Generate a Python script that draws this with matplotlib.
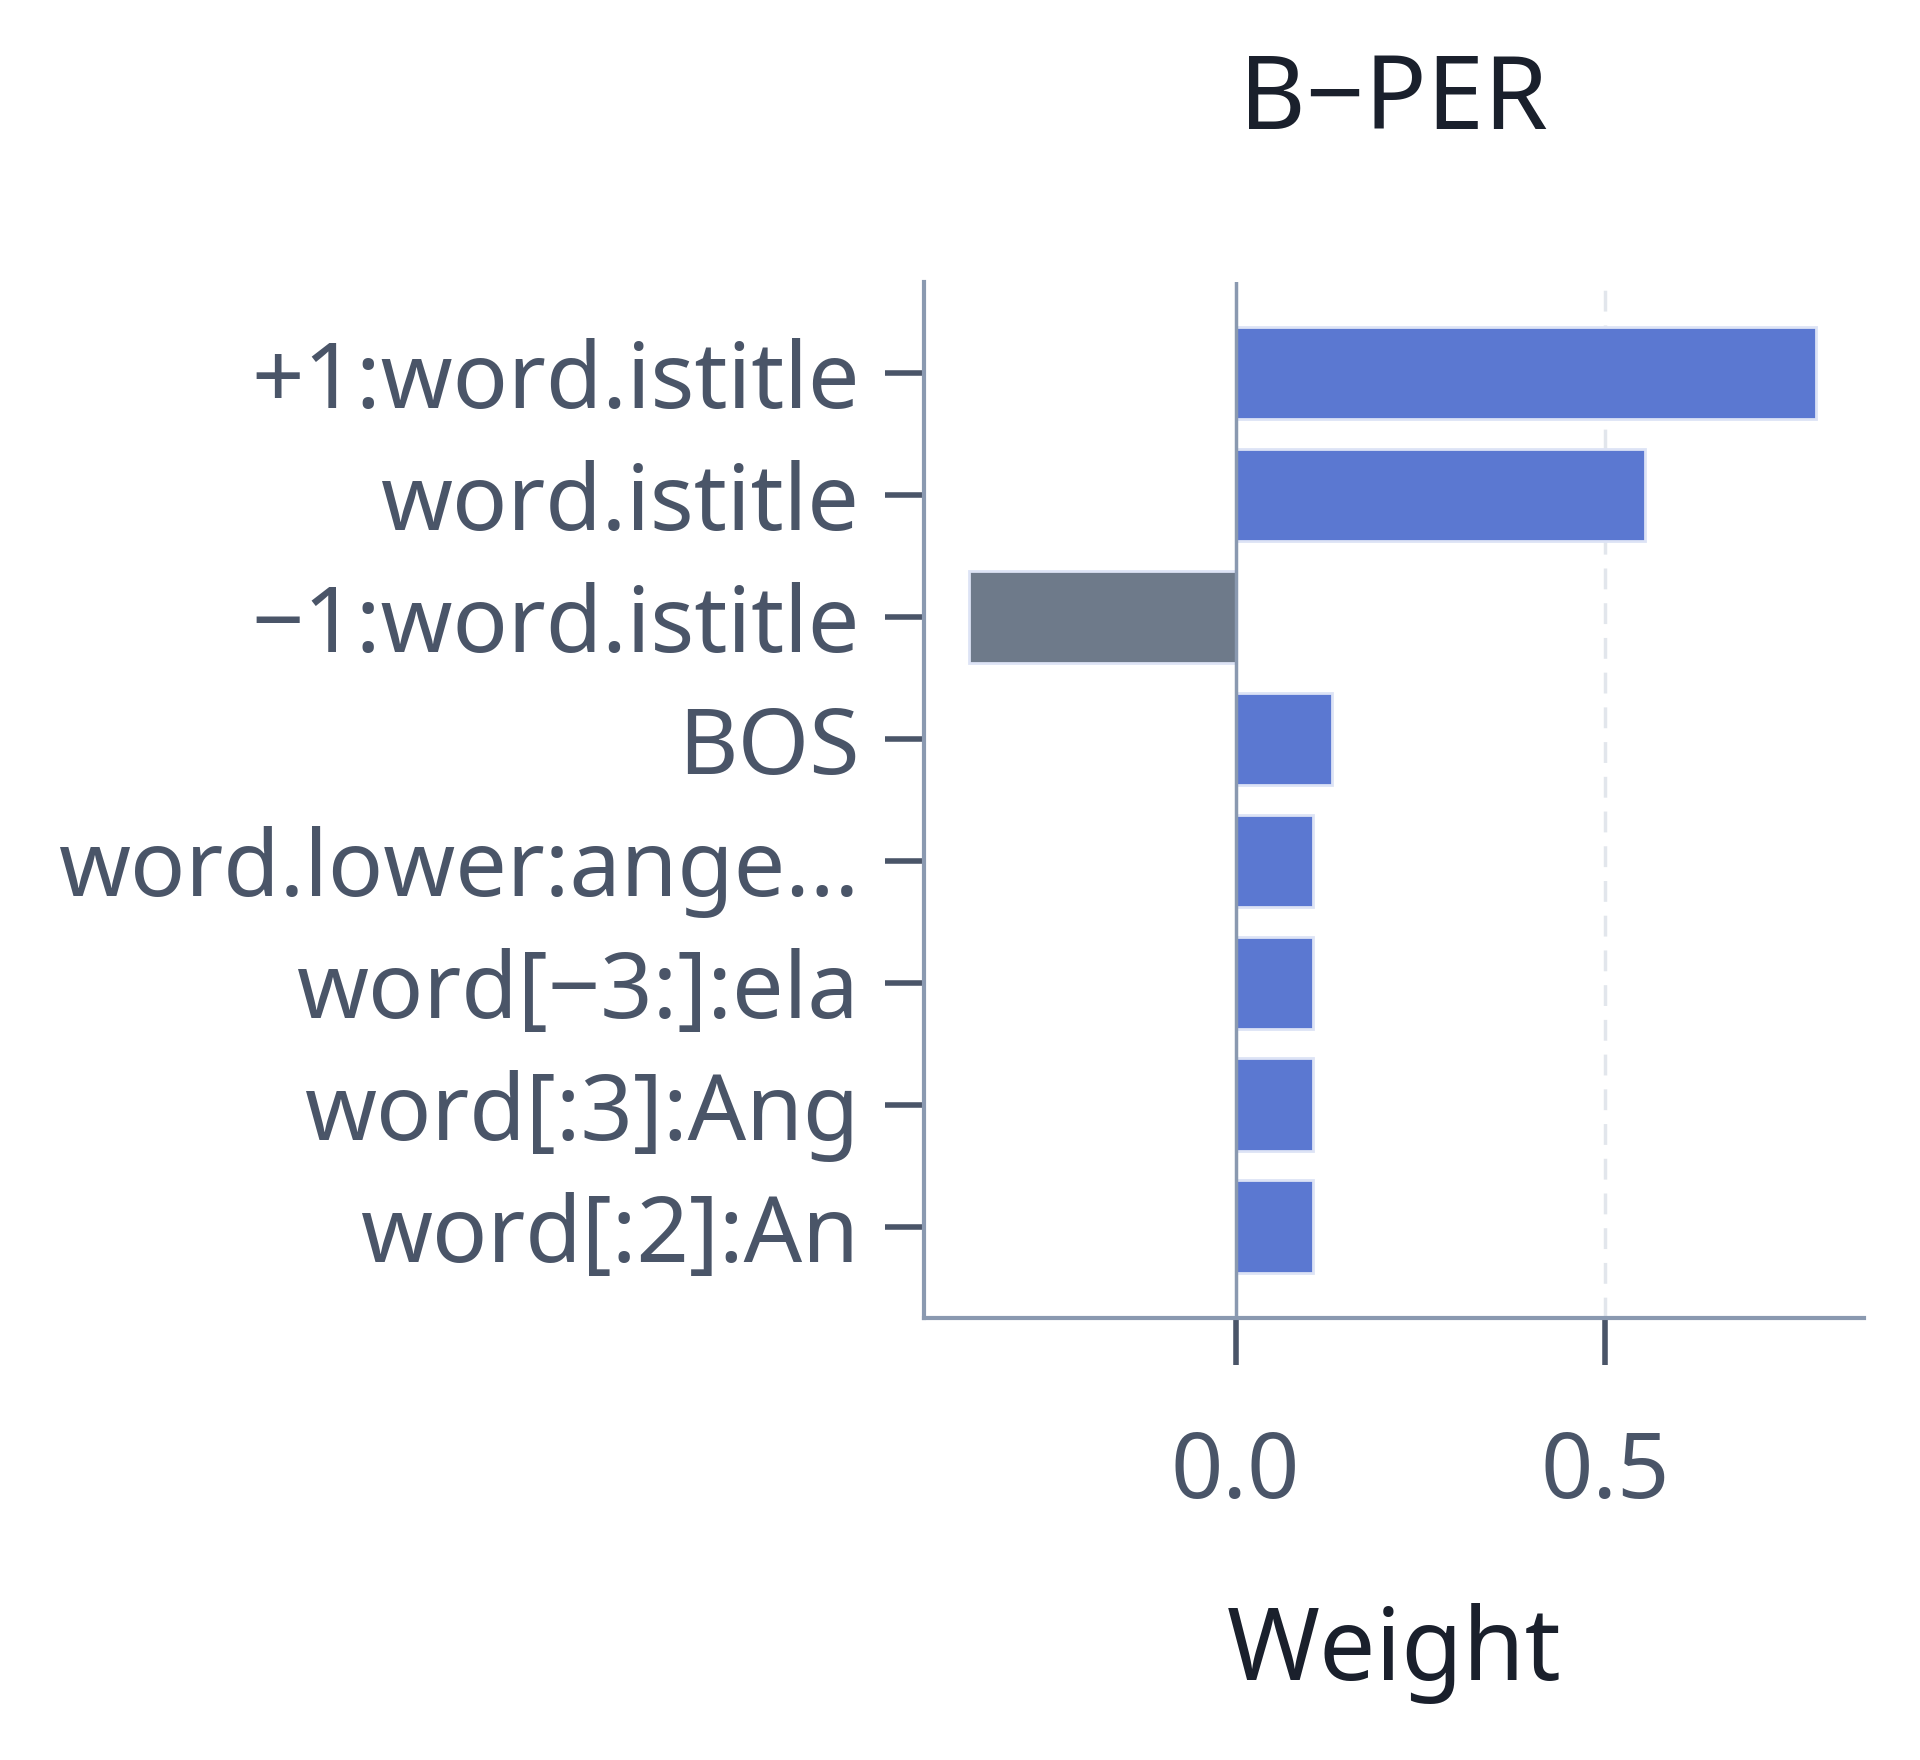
import matplotlib
matplotlib.use("Agg")
import matplotlib.pyplot as plt

features = ["+1:word.istitle", "word.istitle", "-1:word.istitle", "BOS",
            "word.lower:ange...", "word[-3:]:ela", "word[:3]:Ang", "word[:2]:An"]
weights = [0.785, 0.553, -0.36, 0.13, 0.105, 0.105, 0.105, 0.105]
xticks = [0.0, 0.5]
xticklabels = ["0.0", "0.5"]

plt.rcParams['font.family'] = ['Noto Sans', 'DejaVu Sans']
fig = plt.figure(figsize=(19.2, 17.6), dpi=100)
ax = fig.add_axes([0.481, 0.251, 0.490, 0.589])

colors = ["#5b78d1" if w >= 0 else "#6e7a8a" for w in weights]
y = list(range(len(features)))
ax.barh(y, weights, height=0.76, color=colors, edgecolor="#dde3f5", linewidth=2, zorder=3)
ax.set_yticks(y)
ax.set_yticklabels([f.replace("-", "\u2212") for f in features])
ax.set_ylim(len(features) - 0.25, -0.75)
ax.set_xlim(-0.422, 0.85)
ax.set_xticks(xticks)
ax.set_xticklabels(xticklabels)
ax.axvline(0, color="#8a99b0", lw=2.5, zorder=4)
ax.axvline(0.5, color="#e2e6ec", lw=2.5, ls=(0, (6, 4)), zorder=1)

for s in ["top", "right"]:
    ax.spines[s].set_visible(False)
for s in ["left", "bottom"]:
    ax.spines[s].set_color("#8a99b0")
    ax.spines[s].set_linewidth(3)
ax.tick_params(axis="y", length=28, width=4, color="#4a5568", labelsize=66,
               labelcolor="#4a5568", pad=18)
ax.tick_params(axis="x", length=34, width=4, color="#4a5568", labelsize=66,
               labelcolor="#4a5568", pad=45)
ax.set_title("B\u2212PER", fontsize=74, color="#1a202c", pad=110)
ax.set_xlabel("Weight", fontsize=72, color="#1a202c", labelpad=60)
fig.savefig("out.png", dpi=100)
